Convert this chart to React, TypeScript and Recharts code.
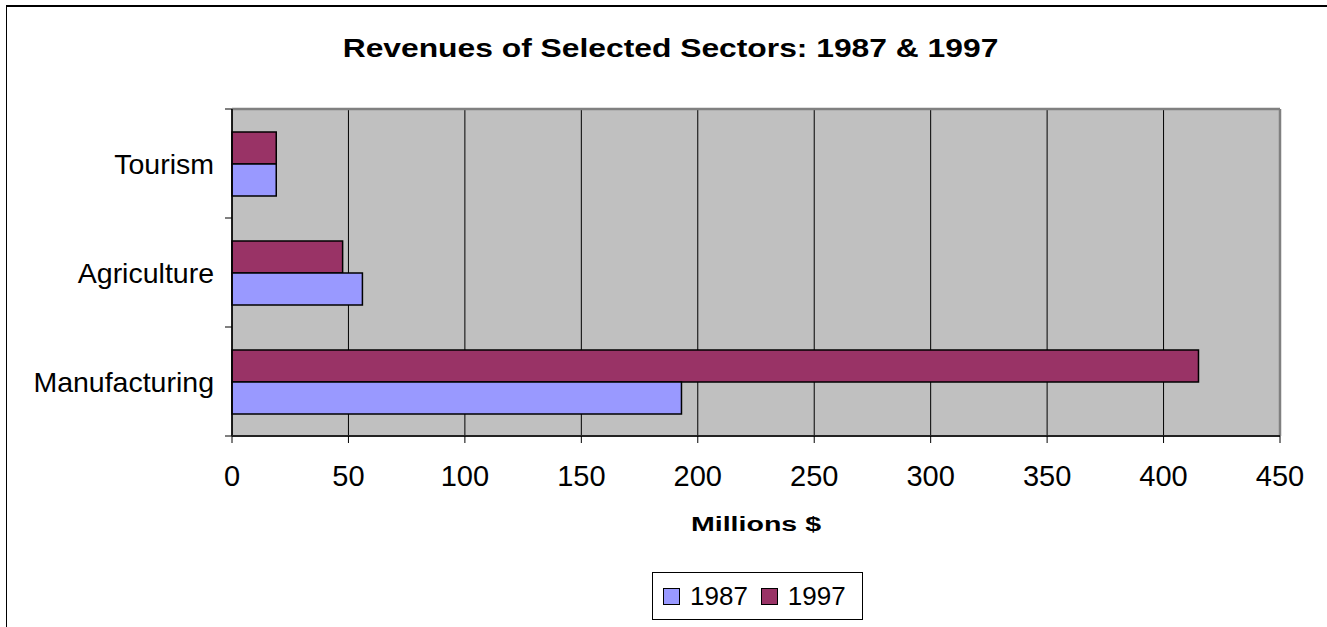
import React from 'react';
import { BarChart, Bar, XAxis, YAxis, CartesianGrid, ReferenceLine, Legend, Label } from 'recharts';

const categories = ['Tourism', 'Agriculture', 'Manufacturing'];
const values1987 = [19, 56, 193];
const values1997 = [19, 47.5, 415];
const xTicks = [0, 50, 100, 150, 200, 250, 300, 350, 400, 450];
const seriesNames = ['1987', '1997'];
const seriesColors = ['#9999FF', '#993366'];

const data = categories.map((name, i) => ({ name, v1987: values1987[i], v1997: values1997[i] }));

const FONT = '"Liberation Sans", Arial, sans-serif';
const Y_TICK_MARGIN = 18;

const XLabel = (props: any) => {
  const vb = props.viewBox || {};
  const cx = vb.x + vb.width / 2;
  return (
    <text transform={`translate(${cx},${vb.y + 95}) scale(1.36,1)`} x={0} y={0} textAnchor="middle" fontFamily={FONT} fontWeight="bold" fontSize={21} fill="#000">
      Millions $
    </text>
  );
};

const YTick = (props: any) => {
  const { x, y, payload, index } = props;
  const off = (payload && payload.offset) || 0;
  const ax = x + Y_TICK_MARGIN;
  const last = index === categories.length - 1;
  return (
    <g>
      <line x1={ax - 7} x2={ax} y1={y - off} y2={y - off} stroke="#000" strokeWidth={1} />
      {last && <line x1={ax - 7} x2={ax} y1={y + off} y2={y + off} stroke="#000" strokeWidth={1} />}
      <text x={x} y={y} dy="0.355em" textAnchor="end" fontFamily={FONT} fontSize={28.5} fill="#000">
        {payload.value}
      </text>
    </g>
  );
};

const LegendContent = () => (
  <div style={{ boxSizing: 'border-box', width: 211, height: 48, border: '1px solid #000', display: 'flex', alignItems: 'center', paddingLeft: 10, fontFamily: FONT, fontSize: 26, color: '#000', background: '#fff' }}>
    {seriesNames.map((n, i) => (
      <div key={n} style={{ display: 'flex', alignItems: 'center', marginRight: i === 0 ? 13 : 0 }}>
        <span style={{ display: 'inline-block', boxSizing: 'border-box', width: 17, height: 17, background: seriesColors[i], border: '1.5px solid #000', marginRight: 10 }} />
        <span>{n}</span>
      </div>
    ))}
  </div>
);

export default function App() {
  return (
    <div style={{ position: 'absolute', left: 0, top: 0, width: 1327, height: 627, background: '#fff', overflow: 'hidden' }}>
      <div style={{ position: 'absolute', left: 6, top: 5, width: 1330, height: 640, borderLeft: '1.5px solid #000', borderTop: '2px solid #000' }} />
      <svg width={1327} height={100} style={{ position: 'absolute', left: 0, top: 0 }}>
        <text transform="translate(670.5,57) scale(1.2,1)" x={0} y={0} textAnchor="middle" fontFamily={FONT} fontWeight="bold" fontSize={26.5} fill="#000">
          Revenues of Selected Sectors: 1987 &amp; 1997
        </text>
      </svg>
      <div style={{ position: 'absolute', left: 0, top: 0 }}>
        <BarChart
          width={1327}
          height={627}
          data={data}
          layout="vertical"
          margin={{ top: 109, right: 47, bottom: 0, left: 0 }}
          barCategoryGap="21%"
          barGap={0}
        >
          <CartesianGrid horizontal={false} vertical={true} stroke="#000" fill="#C0C0C0" fillOpacity={1} />
          <YAxis
            type="category"
            dataKey="name"
            width={232}
            tickLine={false}
            tickSize={0}
            tickMargin={Y_TICK_MARGIN}
            axisLine={{ stroke: '#000', strokeWidth: 1.5 }}
            tick={YTick}
          />
          <XAxis
            type="number"
            domain={[0, 450]}
            ticks={xTicks}
            height={191}
            tickSize={7}
            tickMargin={22}
            interval={0}
            axisLine={{ stroke: '#222', strokeWidth: 2 }}
            tickLine={{ stroke: '#000' }}
            tick={{ fontSize: 29, fill: '#000', fontFamily: FONT }}
          >
            <Label content={XLabel} />
          </XAxis>
          <ReferenceLine x={450} stroke="#808080" strokeWidth={2.5} />
          <ReferenceLine y={categories[0]} position="start" stroke="#808080" strokeWidth={2.5} />
          <Bar dataKey="v1997" name="1997" fill={seriesColors[1]} stroke="#000" strokeWidth={1.5} isAnimationActive={false} />
          <Bar dataKey="v1987" name="1987" fill={seriesColors[0]} stroke="#000" strokeWidth={1.5} isAnimationActive={false} />
          <Legend layout="horizontal" verticalAlign="middle" align="center" content={LegendContent} wrapperStyle={{ left: 652, top: 572, width: 211, height: 48 }} />
        </BarChart>
      </div>
    </div>
  );
}
